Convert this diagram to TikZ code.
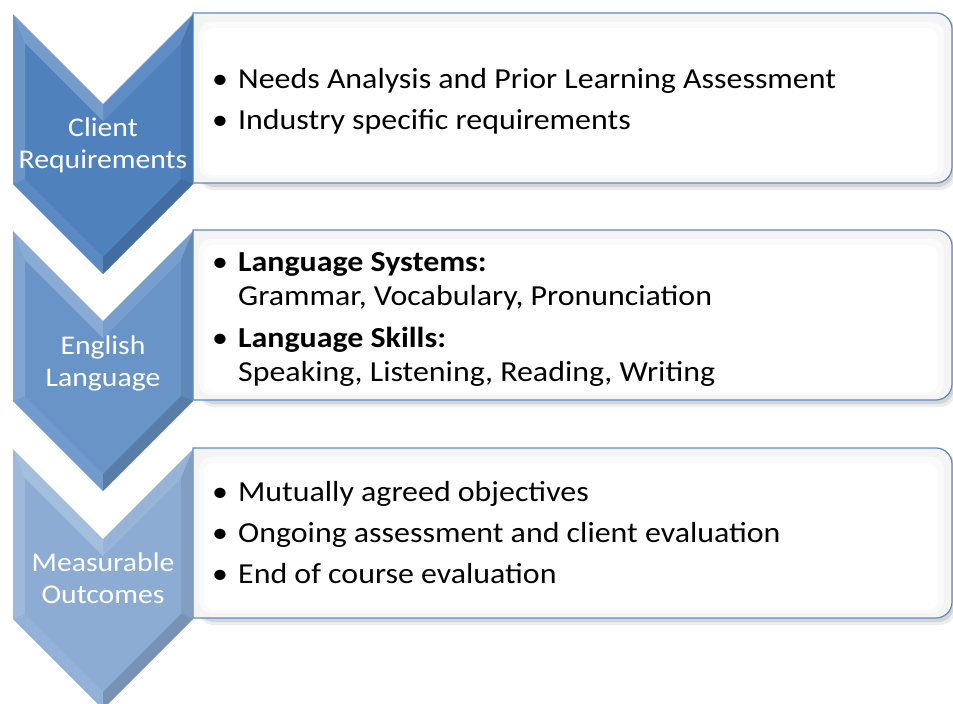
\documentclass[tikz,border=0pt]{standalone}
\usepackage{fontspec}
\setmainfont{Carlito}[FakeStretch=1.1]
\usetikzlibrary{positioning}
\definecolor{stageA}{RGB}{79,129,189}
\definecolor{stageB}{RGB}{104,148,200}
\definecolor{stageC}{RGB}{140,172,212}
\definecolor{panelline}{RGB}{92,138,194}
\tikzset{%
  stagetext/.style = {white,font=\fontsize{27}{32}\selectfont,
        align=center,anchor=base,inner sep=0pt},
  itemtext/.style = {font=\fontsize{29}{34}\selectfont,
        anchor=base west,inner sep=0pt},
  dot/.style = {font=\fontsize{29}{34}\selectfont,
        anchor=base,inner sep=0pt},
  lite/.style = {fill=white,fill opacity=#1},
  dark/.style = {fill=black,fill opacity=#1},
  paneledge/.style = {draw=panelline,line width=1.2pt}
}

\begin{document}
\begin{tikzpicture}[x=1pt,y=-1pt]
\useasboundingbox (0,0) rectangle (953,704);
\clip (0,0) rectangle (953,704);
\foreach \t/\c in {14/stageA,231/stageB,449/stageC}{
    % panel with shadow
    \fill[black,opacity=.07,rounded corners=16] (198,\t+2) rectangle (956,\t+176);
    \fill[black,opacity=.10,rounded corners=16] (198,\t+1) rectangle (954,\t+173);
    \filldraw[paneledge,fill=gray!9] (193,\t-1) -- (936,\t-1)
        .. controls (944.8,\t-1) and (952,\t+6.2) .. (952,\t+15) -- (952,\t+153)
        .. controls (952,\t+161.8) and (944.8,\t+169) .. (936,\t+169) -- (193,\t+169) -- cycle;
    \fill[gray!4,rounded corners=12] (199,\t+8) rectangle (944,\t+164);
    \fill[white,rounded corners=10] (203,\t+14) rectangle (938,\t+161);
    % chevron
    \fill[\c] (13,\t) -- (103,\t+90) -- (193,\t) -- (193,\t+170)
        -- (103,\t+260) -- (13,\t+170) -- cycle;
    \fill[lite=.16] (13,\t) -- (25,\t+29) -- (25,\t+165) -- (13,\t+170) -- cycle;
    \fill[lite=.22] (13,\t) -- (103,\t+90) -- (103,\t+107) -- (25,\t+29) -- cycle;
    \fill[lite=.10] (103,\t+90) -- (193,\t) -- (181,\t+29) -- (103,\t+107) -- cycle;
    \fill[dark=.08] (193,\t) -- (193,\t+170) -- (181,\t+165) -- (181,\t+29) -- cycle;
    \fill[lite=.07] (13,\t+170) -- (103,\t+260) -- (103,\t+243) -- (25,\t+165) -- cycle;
    \fill[dark=.15] (103,\t+260) -- (193,\t+170) -- (181,\t+165) -- (103,\t+243) -- cycle;
}
% stage names
\node[stagetext] (client) at (103,168) {Client\\Requirements};
\node[stagetext] (english) at (103,386) {English\\Language};
\node[stagetext] (outcomes) at (103,603) {Measurable\\Outcomes};
% first panel
\node[dot] (d1) at (220,88) {•};
\node[itemtext] (needs) at (238,88) {Needs Analysis and Prior Learning Assessment};
\node[dot] (d2) at (220,129) {•};
\node[itemtext] (industry) at (238,129) {Industry specific requirements};
% second panel
\node[dot] (d3) at (220,271) {•};
\node[itemtext] (systems) at (238,271) {\textbf{Language Systems:}};
\node[itemtext] (grammar) at (238,305) {Grammar, Vocabulary, Pronunciation};
\node[dot] (d4) at (220,347) {•};
\node[itemtext] (skills) at (238,347) {\textbf{Language Skills:}};
\node[itemtext] (speaking) at (238,381) {Speaking, Listening, Reading, Writing};
% third panel
\node[dot] (d5) at (220,501) {•};
\node[itemtext] (agreed) at (238,501) {Mutually agreed objectives};
\node[dot] (d6) at (220,542) {•};
\node[itemtext] (ongoing) at (238,542) {Ongoing assessment and client evaluation};
\node[dot] (d7) at (220,583) {•};
\node[itemtext] (endcourse) at (238,583) {End of course evaluation};
\end{tikzpicture}
\end{document}
